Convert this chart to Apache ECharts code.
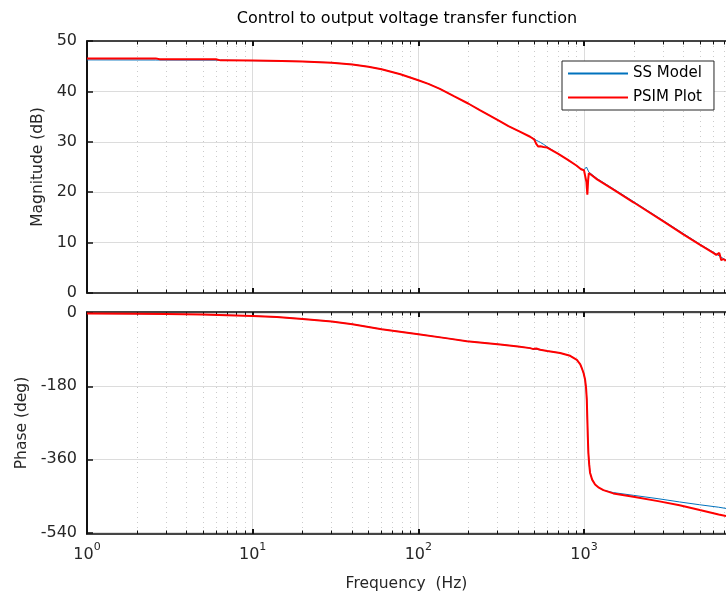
<!DOCTYPE html>
<html>
<head>
<meta charset="utf-8">
<script src="https://cdn.jsdelivr.net/npm/echarts@6/dist/echarts.min.js"></script>
<style>
  html, body { margin: 0; padding: 0; background: #ffffff; }
  #chart { width: 726px; height: 597px; }
</style>
</head>
<body>
<div id="chart"></div>
<script>
// Bode plot data: frequency in Hz, magnitude in dB, phase in degrees
const magFreq = [1, 2.6, 2.75, 6.0, 6.4, 10, 15, 20, 30, 40, 50, 60, 78, 100, 115, 135, 165, 200, 235, 270, 310, 350, 410, 473,
  500, 515, 530, 545, 570, 600, 700, 800, 900, 960, 1000, 1020, 1035, 1048, 1060, 1070, 1090,
  1200, 1500, 2000, 3000, 4000, 5000, 6000, 6290, 6560, 6740, 6930, 7200];
const ssMag = [46.25, 46.23, 46.22, 46.2, 46.19, 46.1, 46.03, 45.93, 45.7, 45.35, 44.9, 44.4, 43.4, 42.2, 41.5, 40.5, 39.0, 37.6, 36.3, 35.2, 34.1, 33.1, 32.0, 31.0,
  30.6, 30.3, 30.1, 29.9, 29.5, 29.0, 27.6, 26.4, 25.3, 24.6, 24.45, 24.6, 25.0, 25.3, 24.7, 24.0, 23.7,
  22.7, 20.7, 18.1, 14.4, 11.75, 9.7, 8.15, 7.75, 7.35, 7.1, 6.85, 6.5];
const psimMag = [46.55, 46.55, 46.38, 46.36, 46.16, 46.12, 46.03, 45.93, 45.7, 45.35, 44.9, 44.4, 43.4, 42.2, 41.5, 40.5, 39.0, 37.6, 36.3, 35.2, 34.1, 33.1, 32.0, 31.0,
  30.5, 29.6, 29.05, 29.1, 28.95, 28.85, 27.6, 26.4, 25.3, 24.55, 24.35, 24.2, 22.0, 19.5, 22.5, 23.8, 23.5,
  22.55, 20.55, 17.95, 14.25, 11.6, 9.6, 8.0, 7.55, 7.95, 6.5, 6.75, 6.4];

const phaseFreq = [1, 2, 3, 5, 7, 10, 14, 20, 30, 40, 60, 100, 150, 196, 312, 400, 473, 495, 515, 529, 545, 600,
  718, 825, 906, 950, 970, 995, 1016, 1030, 1040, 1048, 1055, 1063, 1075, 1088, 1120, 1167, 1230, 1310,
  1504, 1986, 2800, 3776, 5000, 6500, 7200];
const ssPhase = [-0.6, -1.3, -2.0, -3.4, -4.8, -6.6, -9.5, -14, -20.6, -27, -39.3, -51.6, -62, -68.8, -77, -82, -86, -88.4, -89, -89.5, -90.5, -93,
  -98, -105, -115, -126, -135, -148, -164, -185, -213, -262, -305, -344, -372, -393, -410, -422, -430, -436,
  -442, -448.7, -457, -465, -472, -478, -481];
const psimPhase = [-0.6, -1.3, -2.0, -3.4, -4.8, -6.6, -9.5, -14, -20.6, -27, -39.3, -51.6, -62, -68.8, -77, -82, -86, -88.4, -87, -86.5, -90, -93,
  -98, -105, -115, -126, -135, -148, -164, -185, -213, -262, -305, -344, -372, -393, -410, -422, -430, -436,
  -444, -452, -463, -473, -485, -496, -500];

// Axis tick positions
const decadeTicks = [1, 10, 100, 1000];
const minorTicks = [2, 3, 4, 5, 6, 7, 8, 9, 20, 30, 40, 50, 60, 70, 80, 90,
  200, 300, 400, 500, 600, 700, 800, 900, 2000, 3000, 4000, 5000, 6000, 7000];
const magTicks = [0, 10, 20, 30, 40, 50];
const phaseTicks = [-540, -360, -180, 0];

const FONT = '"DejaVu Sans", "Liberation Sans", sans-serif';
const INK = '#262626';
const F_MIN = 1, F_MAX = 7200;

const pairs = (xs, ys) => xs.map((x, i) => [x, ys[i]]);

// One frequency axis layer: major or minor ticks with matching grid lines
function freqAxis(gridIndex, position, major, withGrid, extra) {
  const vals = major ? decadeTicks : minorTicks;
  return Object.assign({
    type: 'log', logBase: 10, gridIndex, position, min: F_MIN, max: F_MAX,
    axisLine: { show: true, onZero: false, lineStyle: { color: '#3a3a3a', width: 1.5 } },
    axisTick: { show: true, inside: true, length: major ? 5 : 3.5, customValues: vals,
      lineStyle: { color: '#111', width: major ? 2 : 1 } },
    axisLabel: { show: false, customValues: vals },
    splitLine: { show: withGrid, lineStyle: major
      ? { color: '#dcdcdc', width: 1 }
      : { color: '#cbcbcb', width: 1, type: [1, 4] } }
  }, extra || {});
}

const bottomLabels = {
  axisLabel: {
    show: true, customValues: decadeTicks, margin: 11,
    formatter: v => '{b|10}{e|' + Math.round(Math.log10(v)) + '}',
    rich: {
      b: { fontFamily: FONT, fontSize: 16, color: INK, lineHeight: 18, verticalAlign: 'bottom' },
      e: { fontFamily: FONT, fontSize: 11, color: INK, lineHeight: 12, verticalAlign: 'bottom', padding: [0, 0, 10, 0] }
    }
  },
  name: 'Frequency  (Hz)', nameLocation: 'middle', nameGap: 42,
  nameTextStyle: { fontFamily: FONT, fontSize: 15.5, color: INK }
};

// Grid positions of the axes: when a side is already taken, a requested side flips,
// so the third and fourth layers ask for the opposite side.
const xAxes = [
  freqAxis(0, 'bottom', true, true),
  freqAxis(0, 'top', true, false),
  freqAxis(0, 'top', false, true),
  freqAxis(0, 'bottom', false, false),
  freqAxis(1, 'bottom', true, true, bottomLabels),
  freqAxis(1, 'top', true, false),
  freqAxis(1, 'top', false, true),
  freqAxis(1, 'bottom', false, false)
];

function valueAxis(gridIndex, min, max, ticks, name, nameGap) {
  return {
    type: 'value', gridIndex, min, max, position: 'left',
    axisLine: { show: true, onZero: false, lineStyle: { color: '#111', width: 2 } },
    axisTick: { show: true, inside: true, length: 6, customValues: ticks, lineStyle: { color: '#111', width: 1.5 } },
    axisLabel: { show: true, customValues: ticks, margin: 10, fontFamily: FONT, fontSize: 16, color: INK },
    splitLine: { show: true, lineStyle: { color: '#dcdcdc', width: 1 } },
    name, nameLocation: 'middle', nameGap,
    nameTextStyle: { fontFamily: FONT, fontSize: 15.5, color: INK }
  };
}

const blue = '#0072BD', red = '#FF0000';
function curve(name, color, width, xi, yi, data, z) {
  return { name, type: 'line', xAxisIndex: xi, yAxisIndex: yi, data, symbol: 'none',
    lineStyle: { color, width }, itemStyle: { color }, z, animation: false };
}

const option = {
  animation: false,
  backgroundColor: '#ffffff',
  title: {
    text: 'Control to output voltage transfer function',
    left: 407, top: 11, textAlign: 'center', padding: 0,
    textStyle: { fontFamily: FONT, fontSize: 16, fontWeight: 'normal', color: '#000' }
  },
  grid: [
    { left: 87, right: 0, top: 41, height: 252 },
    { left: 87, right: 0, top: 312, height: 222 }
  ],
  xAxis: xAxes,
  yAxis: [
    valueAxis(0, 0, 50, magTicks, 'Magnitude (dB)', 31),
    valueAxis(1, -544, 3, phaseTicks, 'Phase (deg)', 50)
  ],
  legend: {
    orient: 'vertical', left: 562, top: 61, padding: [5, 12, 5, 5],
    itemWidth: 60, itemHeight: 14, itemGap: 9,
    borderColor: INK, borderWidth: 1, backgroundColor: '#ffffff',
    itemStyle: { opacity: 0 },
    textStyle: { fontFamily: FONT, fontSize: 15, color: '#000' },
    data: ['SS Model', 'PSIM Plot']
  },
  series: [
    curve('SS Model', blue, 1, 0, 0, pairs(magFreq, ssMag), 3),
    curve('PSIM Plot', red, 2, 0, 0, pairs(magFreq, psimMag), 4),
    curve('SS Model', blue, 1, 4, 1, pairs(phaseFreq, ssPhase), 3),
    curve('PSIM Plot', red, 2, 4, 1, pairs(phaseFreq, psimPhase), 4)
  ]
};

const chart = echarts.init(document.getElementById('chart'), null, { renderer: 'canvas' });
chart.setOption(option);
</script>
</body>
</html>
